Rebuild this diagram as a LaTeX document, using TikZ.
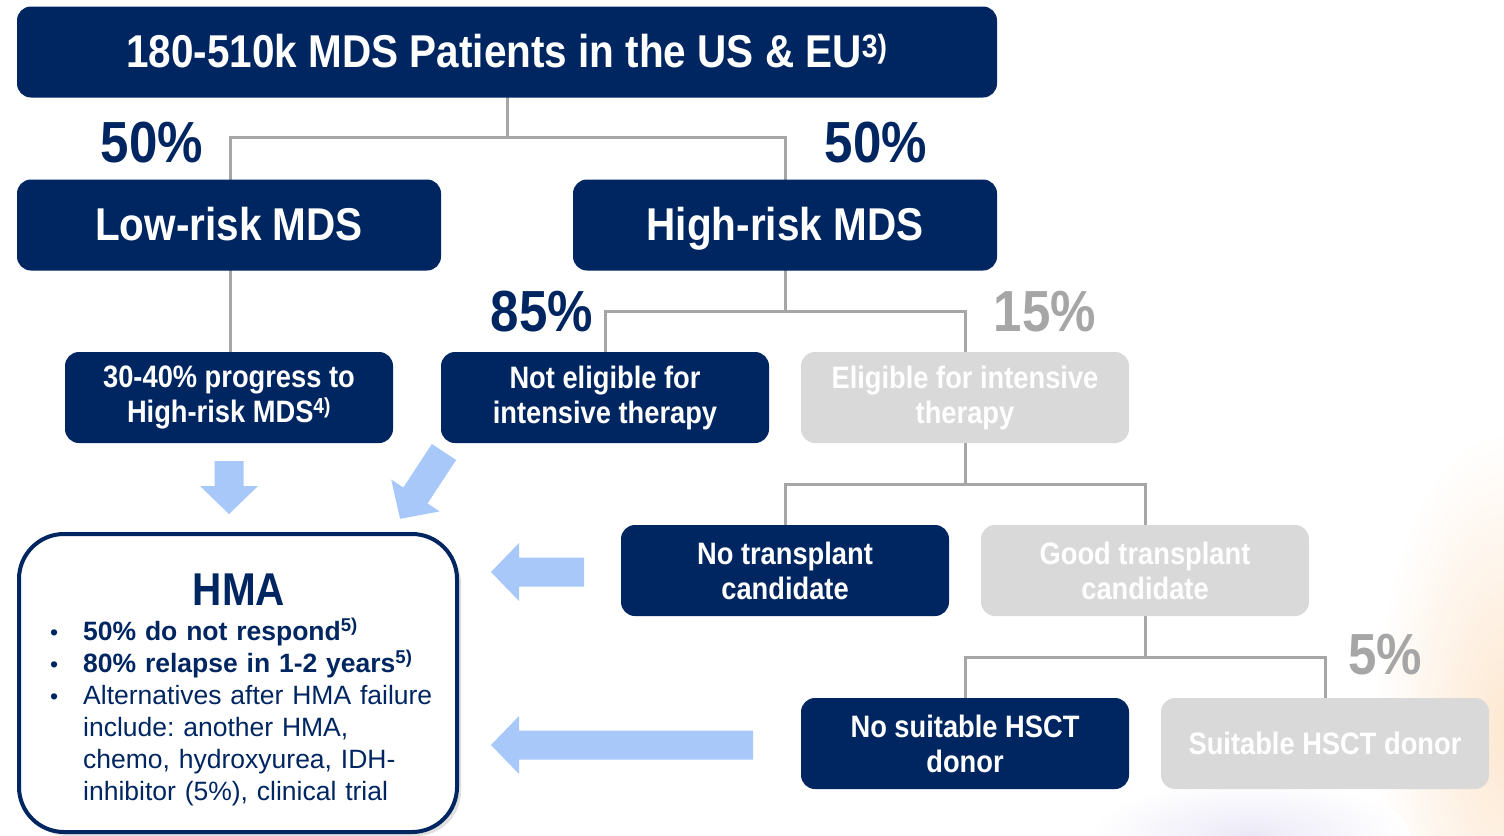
\documentclass[tikz,border=0pt]{standalone}
\usepackage{fontspec}
\setmainfont{Liberation Sans}
\newfontfamily\condfont[FakeStretch=0.88]{Liberation Sans}
\usetikzlibrary{positioning, shadows}

\definecolor{mdsnavy}{RGB}{0,38,98}
\definecolor{linkgrey}{RGB}{166,166,166}
\definecolor{boxgrey}{RGB}{217,217,217}
\definecolor{arrowblue}{RGB}{168,200,250}
\definecolor{glowpeach}{RGB}{253,232,210}
\definecolor{glowlilac}{RGB}{236,233,247}

% bullet line with hanging indent
\newcommand{\hmaitem}[1]{\par\noindent\hangindent=33pt\hangafter=1\makebox[33pt][l]{\fontsize{23}{23}\selectfont\textbullet}#1}

\tikzset{
    pics/fatarrow/.style={code={
        \fill[arrowblue] (0,-14.5) -- ({#1-28},-14.5) -- ({#1-28},-29) -- (#1,0)
            -- ({#1-28},29) -- ({#1-28},14.5) -- (0,14.5) -- cycle;
    }},
}

\begin{document}
\begin{tikzpicture}[x=1pt, y=-1pt,
        navybox/.style={rounded corners=14pt, fill=mdsnavy, text=white, align=center,
            inner sep=0pt, minimum width=#1, minimum height=91pt,
            font=\condfont\bfseries\fontsize{31}{35}\selectfont},
        navybox/.default=328pt,
        greybox/.style={navybox=#1, fill=boxgrey},
        greybox/.default=328pt,
        bigtext/.style={font=\condfont\bfseries\fontsize{46}{50}\selectfont,
            text height=36pt, text depth=6pt},
        pct/.style={font=\condfont\bfseries\fontsize{58}{62}\selectfont, text=mdsnavy, inner sep=0pt},
        pctgrey/.style={pct, text=linkgrey},
        link/.style={draw=linkgrey, line width=3pt},
        hmabox/.style={draw=mdsnavy, line width=4pt, fill=white, rounded corners=45pt,
            minimum width=438pt, minimum height=298pt, inner sep=0pt,
            drop shadow={shadow xshift=4pt, shadow yshift=-4pt, opacity=0.25}},
    ]
    \useasboundingbox (0,0) rectangle (1504,835);
    \fill[white] (0,0) rectangle (1504,835);

    % soft glow in the lower right corner
    \shade[inner color=glowpeach, outer color=white] (1504,730) ellipse (130 and 300);
    \shade[inner color=glowlilac, outer color=white] (1250,835) ellipse (160 and 55);

    % connectors
    \coordinate (topsplit) at (507,137);
    \draw[link] (507,97) -- (topsplit);
    \draw[link] (230,180) |- (topsplit) -| (785,180);
    \draw[link] (230,270) -- (230,352);
    \draw[link] (785,270) -- (785,311);
    \draw[link] (605,352) |- (785,311) -| (965,352);
    \draw[link] (965,443) -- (965,484);
    \draw[link] (785,525) |- (965,484) -| (1145,525);
    \draw[link] (1145,616) -- (1145,657);
    \draw[link] (965,698) |- (1145,657) -| (1325,698);

    % boxes
    \node[navybox=980pt, bigtext] (total) at (507,52) {180-510k MDS Patients in the US \& EU\textsuperscript{3)}};
    \node[navybox=424pt, bigtext] (lowrisk) at (229,225) {Low-risk MDS};
    \node[navybox=424pt, bigtext] (highrisk) at (785,225) {High-risk MDS};
    \node[navybox] (progress) at (229,397.5) {30-40\% progress to\\High-risk MDS\textsuperscript{4)}};
    \node[navybox] (noteligible) at (605,397.5) {Not eligible for\\intensive therapy};
    \node[greybox] (eligible) at (965,397.5) {Eligible for intensive\\therapy};
    \node[navybox] (notransplant) at (785,570.5) {No transplant\\candidate};
    \node[greybox] (goodtransplant) at (1145,570.5) {Good transplant\\candidate};
    \node[navybox] (nodonor) at (965,743.5) {No suitable HSCT\\donor};
    \node[greybox] (donor) at (1325,743.5) {Suitable HSCT donor};

    % shares
    \node[pct] (lowpct) at (152,143) {50\%};
    \node[pct] (highpct) at (876,143) {50\%};
    \node[pct] (nonintpct) at (542,312) {85\%};
    \node[pctgrey] (intpct) at (1045,312) {15\%};
    \node[pctgrey] (donorpct) at (1385,655) {5\%};

    % HMA outcome box
    \node[hmabox] (hma) at (238,683) {};
    \node[bigtext, text=mdsnavy] (hmatitle) at (239,590) {HMA};
    \node[anchor=north west, text width=400pt, inner sep=0pt, text=mdsnavy,
        font=\frenchspacing\fontsize{26.5}{32}\selectfont] (hmalist) at (50,608) {%
        \hmaitem{\textbf{50\% do not respond\textsuperscript{5)}}}
        \hmaitem{\textbf{80\% relapse in 1-2 years\textsuperscript{5)}}}
        \hmaitem{Alternatives after HMA failure\newline include: another HMA,\newline
            chemo, hydroxyurea, IDH-\newline inhibitor (5\%), clinical trial}\par};

    % block arrows into the HMA box
    \pic[rotate=-90] at (229,461) {fatarrow=53};
    \pic[rotate=-123.3] at (444,452) {fatarrow=80};
    \pic[rotate=180] at (584,572) {fatarrow=93};
    \pic[rotate=180] at (753,745) {fatarrow=262};
\end{tikzpicture}
\end{document}
